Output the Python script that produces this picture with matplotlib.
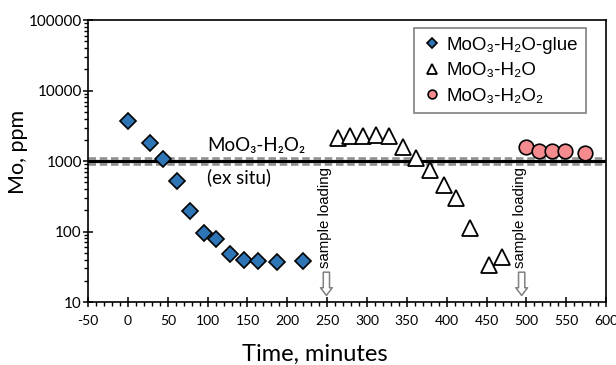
import matplotlib
matplotlib.use("Agg")
import matplotlib.pyplot as plt
from matplotlib.ticker import MultipleLocator, LogLocator, NullFormatter

plt.rcParams["axes.unicode_minus"] = False

# data
glue_t = [0, 28, 44, 61, 78, 95, 111, 128, 146, 163, 187, 220]
glue_mo = [3700, 1780, 1070, 520, 195, 94, 78, 48, 40, 38, 37, 38]

h2o_t = [263, 279, 295, 311, 327, 345, 362, 379, 396, 412, 429, 453, 469]
h2o_mo = [2150, 2250, 2300, 2350, 2250, 1580, 1120, 740, 455, 295, 113, 33, 43]

h2o2_t = [499, 516, 532, 549, 573]
h2o2_mo = [1580, 1400, 1380, 1380, 1300]

ex_situ = 1000
ex_situ_band = [1110, 905]
loading_t = [249, 494]

xticks = list(range(-50, 601, 50))
yticks = [10, 100, 1000, 10000, 100000]

calibri = ["Lato", "DejaVu Sans"]
arial = ["Liberation Sans", "DejaVu Sans"]

fig = plt.figure(figsize=(6.16, 3.65), dpi=100)
ax = fig.add_axes([0.143, 0.1726, 0.841, 0.772])

# ex situ reference level
for lvl in ex_situ_band:
    ax.axhline(lvl, color="#8c8c8c", lw=1.8, dashes=(3, 1.5), zorder=2)
ax.axhline(ex_situ, color="black", lw=2.3, zorder=2)

ax.plot(glue_t, glue_mo, ls="none", marker="D", ms=8.5, mfc="#2E75B6",
        mec="black", mew=1.2, label="MoO\u2083-H\u2082O-glue", zorder=4)
ax.plot(h2o_t, h2o_mo, ls="none", marker="^", ms=11, mfc="white",
        mec="black", mew=1.3, label="MoO\u2083-H\u2082O", zorder=4)
ax.plot(h2o2_t, h2o2_mo, ls="none", marker="o", ms=10.5, mfc="#F48C8F",
        mec="black", mew=1.2, label="MoO\u2083-H\u2082O\u2082", zorder=4)

ax.text(99, 1250, "MoO\u2083-H\u2082O\u2082", fontsize=13.5,
        family=calibri, ha="left", va="bottom")
ax.text(99, 800, "(ex situ)", fontsize=13.5,
        family=calibri, ha="left", va="top")

# sample loading markers
for t in loading_t:
    ax.text(t - 2, 30, "sample loading", rotation=90, fontsize=10.8,
            family=arial, ha="center", va="bottom")
    ax.annotate("", xy=(t, 12.4), xytext=(t, 26.5),
                arrowprops=dict(arrowstyle="simple,head_length=0.55,head_width=0.85,tail_width=0.45",
                                fc="white", ec="#808080", lw=1.1,
                                shrinkA=0, shrinkB=0))

ax.set_yscale("log")
ax.set_xlim(-50, 600)
ax.set_ylim(10, 100000)
ax.set_xticks(xticks)
ax.set_yticks(yticks)
ax.set_yticklabels([str(v) for v in yticks])
ax.xaxis.set_minor_locator(MultipleLocator(10))
ax.yaxis.set_minor_locator(LogLocator(base=10, subs=range(2, 10)))
ax.yaxis.set_minor_formatter(NullFormatter())

ax.tick_params(which="major", direction="inout", length=7, width=1.1)
ax.tick_params(which="minor", direction="out", length=3, width=1.0)
ax.tick_params(axis="x", labelsize=10, pad=6)
ax.tick_params(axis="y", labelsize=11, pad=1)
for lab in ax.get_xticklabels() + ax.get_yticklabels():
    lab.set_family(calibri)
for s in ax.spines.values():
    s.set_linewidth(1.2)

ax.set_xlabel("Time, minutes", fontsize=17, family=calibri)
ax.xaxis.set_label_coords(0.438, -0.148)
ax.set_ylabel("Mo, ppm", fontsize=15.5, family=calibri)
ax.yaxis.set_label_coords(-0.116, 0.534)

leg = ax.legend(loc="upper right", bbox_to_anchor=(0.961, 0.972),
                borderaxespad=0, fancybox=False, framealpha=1,
                edgecolor="#808080", markerscale=0.6, handlelength=1.0,
                handletextpad=0.25, labelspacing=0.45, borderpad=0.45,
                prop={"family": arial, "size": 13.5})
leg.get_frame().set_linewidth(1.2)

fig.savefig("out.png", dpi=100)
